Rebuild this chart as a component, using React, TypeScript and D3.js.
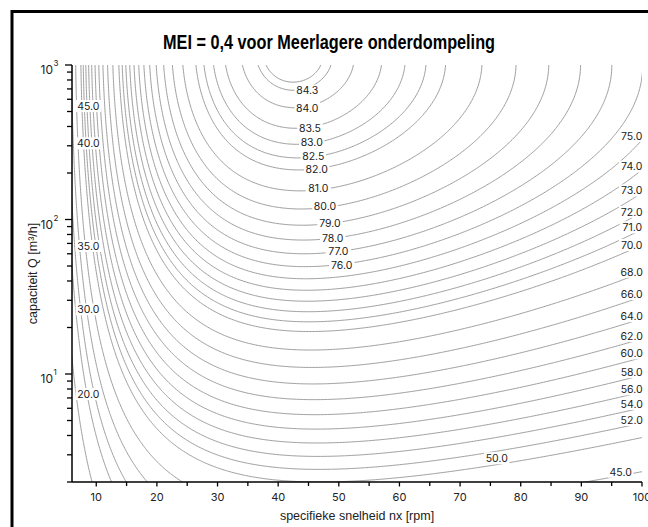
import React from "react";
import * as d3 from "d3";

// ---- data -------------------------------------------------------------
// Minimum efficiency surface (EU 547/2012): eta = a*x + b*y + c*x^2 + d*y^2 + e*x*y - C
// x = ln(ns), y = ln(Q)
const MEI_COEFFS = [88.59, 13.46, -11.48, -0.85, -0.38];
const C_PUMP = 128.82; // MEI = 0.4, multistage submersible

const CONTOUR_LEVELS = [
  20, 30, 35, 40, 45, 50, 52, 54, 56, 58, 60, 62, 64, 66, 68, 70, 71, 72, 73, 74,
  75, 76, 77, 78, 79, 80, 81, 82, 82.5, 83, 83.5, 84, 84.3, 84.4,
];

// contour label positions (level, ns, Q)
const LABEL_LEVELS = [
  84.3, 84.0, 83.5, 83.0, 82.5, 82.0, 81.0, 80.0, 79.0, 78.0, 77.0, 76.0,
  75.0, 74.0, 73.0, 72.0, 71.0, 70.0, 68.0, 66.0, 64.0, 62.0, 60.0, 58.0, 56.0, 54.0, 52.0,
  50.0, 45.0,
  45.0, 40.0, 35.0, 30.0, 20.0,
];
const LABEL_NS = [
  44.8, 44.8, 45.25, 45.53, 45.79, 46.35, 46.62, 47.72, 48.55, 48.99, 49.92, 50.48,
  98.3, 98.3, 98.3, 98.3, 98.4, 98.3, 98.3, 98.3, 98.3, 98.3, 98.3, 98.3, 98.3, 98.3, 98.3,
  76.04, 96.49,
  8.69, 8.69, 8.69, 8.69, 8.69,
];
const LABEL_Q = [
  682, 529, 391, 316, 255, 211, 159, 122, 94.9, 76.2, 62.5, 50.8,
  347, 220, 154, 112, 89.0, 68.4, 45.9, 32.9, 23.7, 17.6, 13.6, 10.3, 7.96, 6.4, 5.04,
  2.85, 2.33,
  543, 311, 67.4, 26.2, 7.42,
];

const X_DOMAIN = [6, 100];
const Q_DOMAIN = [2, 1000];
const X_MAJOR_TICKS = [10, 20, 30, 40, 50, 60, 70, 80, 90, 100];
const X_MINOR_TICKS = [15, 25, 35, 45, 55, 65, 75, 85, 95];
const Y_MAJOR_TICKS = [10, 100, 1000];
const Y_MAJOR_EXP = ["1", "2", "3"];

const TITLE = "MEI = 0,4 voor Meerlagere onderdompeling";
const X_TITLE = "specifieke snelheid nx [rpm]";
const Y_TITLE = "capaciteit Q [m³/h]";

// ---- layout -----------------------------------------------------------
const W = 648;
const H = 527;
const PL = 72, PR = 642, PT = 65, PB = 482;

const NUM_FONT = "Inter, 'Noto Sans', sans-serif";
const LABEL_FONT = "'Liberation Sans Narrow', 'Liberation Sans', Arial, sans-serif";

function eta(ns: number, q: number) {
  const x = Math.log(ns);
  const y = Math.log(q);
  const [a, b, c, d, e] = MEI_COEFFS;
  return a * x + b * y + c * x * x + d * y * y + e * x * y - C_PUMP;
}

export default function App() {
  const xScale = d3.scaleLinear().domain(X_DOMAIN).range([PL, PR]);
  const yScale = d3.scaleLog().domain(Q_DOMAIN).range([PB, PT]);

  // sample the surface on a pixel grid slightly larger than the plot
  const step = 1.5;
  const X0 = PL - 6, Y0 = PT - 6;
  const nx = Math.ceil((PR - PL + 12) / step);
  const ny = Math.ceil((PB - PT + 12) / step);
  const values = new Array(nx * ny);
  for (let j = 0; j < ny; j++) {
    const q = yScale.invert(Y0 + (j + 0.5) * step);
    for (let i = 0; i < nx; i++) {
      const ns = xScale.invert(X0 + (i + 0.5) * step);
      values[j * nx + i] = eta(Math.max(ns, 0.5), Math.max(q, 0.01));
    }
  }
  const contours = d3.contours().size([nx, ny]).thresholds(CONTOUR_LEVELS)(values);
  const path = d3.geoPath(
    d3.geoTransform({
      point(x: number, y: number) {
        (this as any).stream.point(X0 + x * step, Y0 + y * step);
      },
    })
  );

  const yMinor: number[] = [];
  [1, 10, 100].forEach((dec) => {
    for (let k = 2; k <= 9; k++) {
      const v = dec * k;
      if (v >= Q_DOMAIN[0] && v < Q_DOMAIN[1]) yMinor.push(v);
    }
  });

  return (
    <svg
      width={W}
      height={H}
      style={{ position: "absolute", left: 0, top: 0, background: "#fff" }}
    >
      <defs>
        <clipPath id="plotclip">
          <rect x={PL} y={PT} width={PR - PL} height={PB - PT} />
        </clipPath>
      </defs>
      <rect x={0} y={0} width={W} height={H} fill="#fff" />
      <rect x={12} y={11.5} width={660} height={540} fill="none" stroke="#000" strokeWidth={3} />

      <text
        x={329}
        y={49}
        textAnchor="middle"
        fontFamily={LABEL_FONT}
        fontWeight="bold"
        fontSize={20}
        textLength={332}
        lengthAdjust="spacingAndGlyphs"
        fill="#000"
      >
        {TITLE}
      </text>

      <g clipPath="url(#plotclip)">
        {contours.map((c, i) => (
          <path key={i} d={path(c as any) || ""} fill="none" stroke="#9c9c9c" strokeWidth={1} />
        ))}
      </g>

      <g>
        {LABEL_LEVELS.map((lv, i) => {
          const cx = xScale(LABEL_NS[i]);
          const cy = yScale(LABEL_Q[i]);
          const txt = lv.toFixed(1);
          const tw = txt.length * 5.6;
          return (
            <g key={i}>
              <rect x={cx - tw / 2 - 1.5} y={cy - 6} width={tw + 3} height={12} fill="#fff" />
              <text
                x={cx}
                y={cy}
                dy="0.36em"
                textAnchor="middle"
                fontFamily={NUM_FONT}
                fontSize={10.5}
                fill="#222"
              >
                {txt}
              </text>
            </g>
          );
        })}
      </g>

      {/* axes */}
      <line x1={PL} x2={PL} y1={PT} y2={PB} stroke="#000" strokeWidth={1.5} />
      <line x1={PL} x2={PR} y1={PB} y2={PB} stroke="#000" strokeWidth={1.5} />

      {X_MAJOR_TICKS.map((t) => (
        <g key={"xt" + t}>
          <line x1={xScale(t)} x2={xScale(t)} y1={PB} y2={PB + 4.5} stroke="#000" strokeWidth={1.3} />
          <text
            x={xScale(t)}
            y={PB + 19}
            textAnchor="middle"
            fontFamily={NUM_FONT}
            fontSize={11}
            fill="#222"
          >
            {t}
          </text>
        </g>
      ))}
      {X_MINOR_TICKS.map((t) => (
        <line key={"xm" + t} x1={xScale(t)} x2={xScale(t)} y1={PB} y2={PB + 4} stroke="#000" strokeWidth={1.3} />
      ))}

      {Y_MAJOR_TICKS.map((t, i) => (
        <g key={"yt" + t}>
          <line x1={PL - 7} x2={PL} y1={yScale(t)} y2={yScale(t)} stroke="#000" strokeWidth={1.3} />
          <text
            x={PL - 19}
            y={yScale(t) + 9}
            textAnchor="end"
            fontFamily={NUM_FONT}
            fontSize={12}
            fill="#222"
          >
            10
          </text>
          <text
            x={PL - 18.5}
            y={yScale(t) + 1}
            textAnchor="start"
            fontFamily={NUM_FONT}
            fontSize={8}
            fill="#222"
          >
            {Y_MAJOR_EXP[i]}
          </text>
        </g>
      ))}
      {yMinor.map((t) => (
        <line key={"ym" + t} x1={PL - 5} x2={PL} y1={yScale(t)} y2={yScale(t)} stroke="#000" strokeWidth={1.3} />
      ))}

      <text
        x={(PL + PR) / 2}
        y={520}
        textAnchor="middle"
        fontFamily={LABEL_FONT}
        fontSize={12.5}
        fill="#222"
      >
        {X_TITLE}
      </text>
      <text
        transform={`translate(37, ${(PT + PB) / 2}) rotate(-90)`}
        textAnchor="middle"
        fontFamily={LABEL_FONT}
        fontSize={12.5}
        fill="#222"
      >
        {Y_TITLE}
      </text>
    </svg>
  );
}
